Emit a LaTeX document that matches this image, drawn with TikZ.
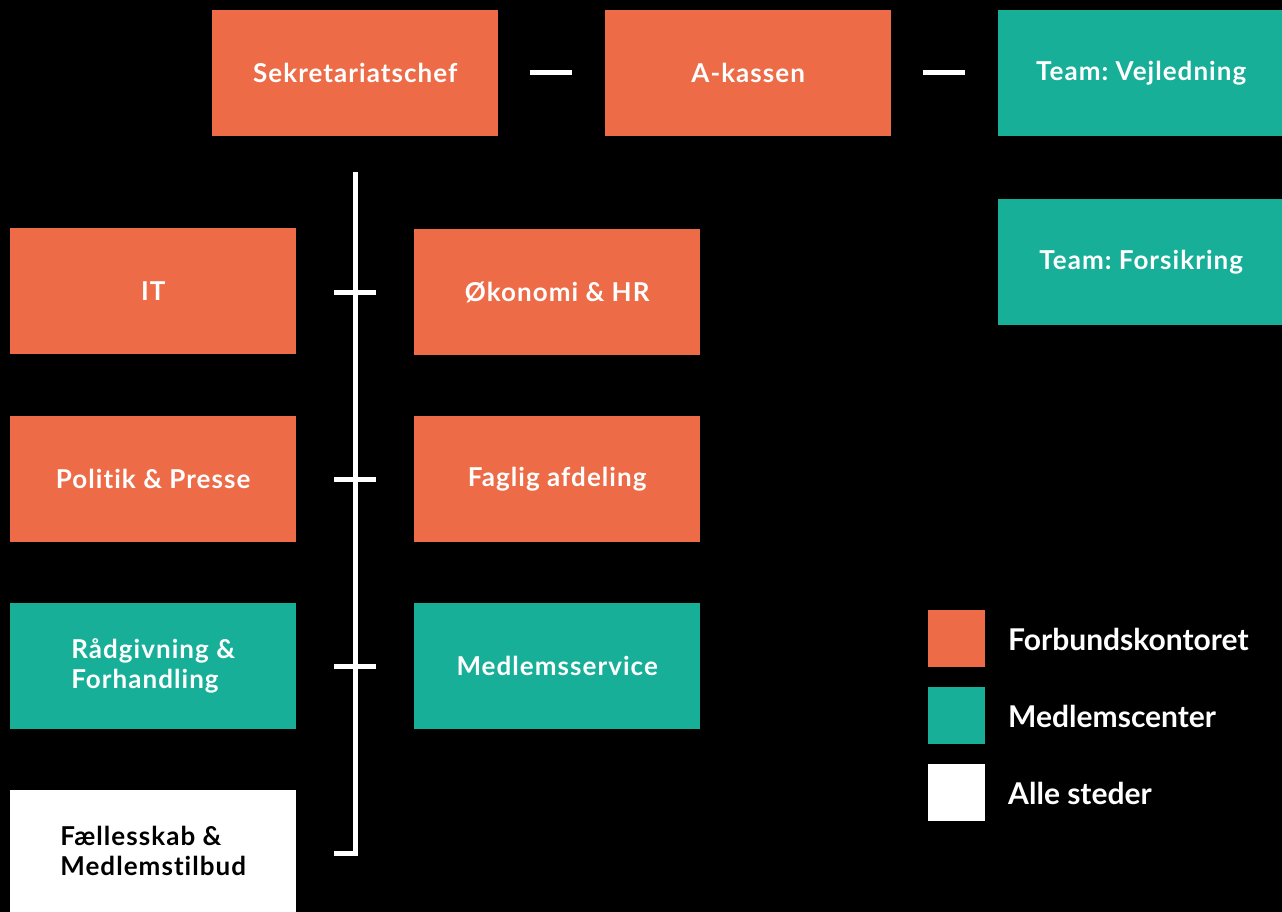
\documentclass[tikz,border=0pt]{standalone}
\usepackage{fontspec}
\setmainfont[Ligatures=NoCommon]{Lato}
\newfontfamily\boxfont[LetterSpace=4,Ligatures=NoCommon]{Lato}
\definecolor{orangeC}{RGB}{238,107,71}
\definecolor{tealC}{RGB}{23,175,151}
\begin{document}
\begin{tikzpicture}[x=1pt,y=-1pt,
  box/.style={minimum width=286pt,minimum height=126pt,inner sep=0pt,anchor=north west,font=\boxfont\fontsize{26}{30}\selectfont\bfseries,text=white,align=left},
  obox/.style={box,fill=orangeC},
  tbox/.style={box,fill=tealC},
  wbox/.style={box,fill=white,text=black},
  sw/.style={minimum width=57pt,minimum height=57pt,inner sep=0pt,anchor=north west},
  ltext/.style={anchor=west,font=\fontsize{30}{34}\selectfont\bfseries,text=white,inner sep=0pt},
  line/.style={white,line width=5pt}]
\fill[black] (0,0) rectangle (1282,912);
\useasboundingbox (0,0) rectangle (1282,912);
\node[obox] (sek) at (212,10) {Sekretariatschef};
\node[obox] (ak) at (605,10) {A-kassen};
\node[tbox] (vej) at (998,10) {Team:\hspace{0.28em}Vejledning};
\node[tbox] (fors) at (998,199) {Team:\hspace{0.28em}Forsikring};
\node[obox] (it) at (10,228) {IT};
\node[obox] (oek) at (414,229) {Økonomi \& HR};
\node[obox] (pol) at (10,416) {Politik \& Presse};
\node[obox] (fag) at (414,416) {Faglig afdeling};
\node[tbox] (raad) at (10,603) {Rådgivning \&\\Forhandling};
\node[tbox] (med) at (414,603) {Medlemsservice};
\node[wbox,minimum height=122pt] (fael) at (10,790) {Fællesskab \&\\Medlemstilbud};
% dashes
\coordinate (d1a) at (530,73); \coordinate (d1b) at (572,73);
\coordinate (d2a) at (923,73); \coordinate (d2b) at (965,73);
\draw[line] (d1a) -- (d1b);
\draw[line] (d2a) -- (d2b);
% vertical spine
\coordinate (vtop) at (355,172);
\coordinate (vbot) at (355,853.5);
\coordinate (vend) at (334,853.5);
\draw[line] (vtop) -- (vbot) -- (vend);
\foreach \y/\n in {292/a,479/b,666/c}{
  \coordinate (t\n l) at (334,\y); \coordinate (t\n r) at (376,\y);
  \draw[line] (t\n l) -- (t\n r);
}
% legend
\node[sw,fill=orangeC] (l1) at (928,610) {};
\node[sw,fill=tealC] (l2) at (928,687) {};
\node[sw,fill=white] (l3) at (928,764) {};
\node[ltext] (lt1) at (1008,639) {Forbundskontoret};
\node[ltext] (lt2) at (1008,716) {Medlemscenter};
\node[ltext] (lt3) at (1008,793) {Alle steder};
\end{tikzpicture}
\end{document}
